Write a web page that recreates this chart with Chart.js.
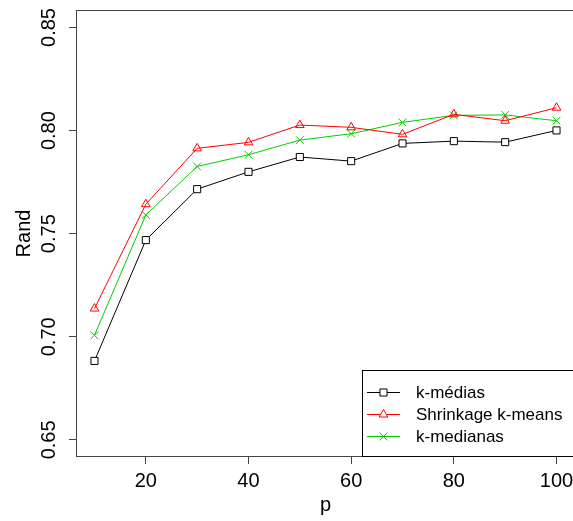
<!DOCTYPE html>
<html>
<head>
<meta charset="utf-8">
<script src="https://cdn.jsdelivr.net/npm/chart.js@4.4.0/dist/chart.umd.min.js"></script>
<style>
  html, body { margin: 0; padding: 0; background: #fff; overflow: hidden; }
  #wrap { width: 573px; height: 521px; overflow: hidden; }
</style>
</head>
<body>
<div id="wrap"><canvas id="myChart" width="575" height="521"></canvas></div>
<script>
// valeurs
const pVals = [10, 20, 30, 40, 50, 60, 70, 80, 90, 100];
const kMedias = [0.6883, 0.7469, 0.7716, 0.7800, 0.7872, 0.7852, 0.7938, 0.7949, 0.7944, 0.8001];
const shrinkage = [0.7137, 0.7643, 0.7914, 0.7943, 0.8027, 0.8016, 0.7982, 0.8079, 0.8048, 0.8111];
const kMedianas = [0.7007, 0.7591, 0.7826, 0.7883, 0.7954, 0.7985, 0.8040, 0.8074, 0.8076, 0.8048];
const xTicks = [20, 40, 60, 80, 100];
const yTicks = [0.65, 0.70, 0.75, 0.80, 0.85];
const seriesNames = ['k-médias', 'Shrinkage k-means', 'k-medianas'];

const FONT = 'Liberation Sans, Arial, sans-serif';
const axisCol = '#444';

function toXY(vals) {
    return vals.map((v, i) => ({ x: pVals[i], y: v }));
}

// cadre du graphique + légende façon R
const boxPlugin = {
    id: 'boxPlugin',
    afterDraw(chart) {
        const ctx = chart.ctx;
        const a = chart.chartArea;
        ctx.save();
        ctx.strokeStyle = axisCol;
        ctx.lineWidth = 1;
        ctx.strokeRect(a.left + 0.5, a.top + 0.5, a.right - a.left - 1, a.bottom - a.top - 1);

        // légende en bas à droite
        const lx = 362.5, ly = 370.5;
        const lw = a.right - 0.5 - lx, lh = a.bottom - 0.5 - ly;
        ctx.fillStyle = '#fff';
        ctx.fillRect(lx, ly, lw, lh);
        ctx.strokeStyle = '#000';
        ctx.strokeRect(lx, ly, lw, lh);

        const rows = [392.5, 414.5, 436.5];
        chart.data.datasets.forEach((ds, i) => {
            const y = rows[i];
            ctx.strokeStyle = ds.borderColor;
            ctx.lineWidth = 1;
            ctx.beginPath();
            ctx.moveTo(367, y);
            ctx.lineTo(400, y);
            ctx.stroke();
            ctx.fillStyle = '#fff';
            Chart.helpers.drawPoint(ctx, {
                pointStyle: ds.pointStyle,
                radius: ds.pointRadius,
                borderWidth: 1,
                rotation: 0
            }, 383.5, y);
            ctx.fillStyle = '#000';
            ctx.font = '17px ' + FONT;
            ctx.textAlign = 'left';
            ctx.textBaseline = 'middle';
            ctx.fillText(ds.label, 416, y + 1);
        });
        ctx.restore();
    }
};

document.addEventListener('DOMContentLoaded', function () {
    var ctx = document.getElementById('myChart').getContext('2d');
    var myChart = new Chart(ctx, {
        type: 'line',
        data: {
            datasets: [{
                label: seriesNames[0],
                data: toXY(kMedias),
                borderColor: '#000',
                backgroundColor: '#fff',
                pointStyle: 'rect',
                pointRadius: 5,
                pointBorderWidth: 1,
                borderWidth: 1
            }, {
                label: seriesNames[1],
                data: toXY(shrinkage),
                borderColor: '#ff0000',
                backgroundColor: 'rgba(0,0,0,0)',
                pointStyle: 'triangle',
                pointRadius: 5,
                pointBorderWidth: 1,
                borderWidth: 1
            }, {
                label: seriesNames[2],
                data: toXY(kMedianas),
                borderColor: '#00cd00',
                backgroundColor: 'rgba(0,0,0,0)',
                pointStyle: 'crossRot',
                pointRadius: 5.5,
                pointBorderWidth: 1,
                borderWidth: 1
            }]
        },
        options: {
            responsive: false,
            animation: false,
            events: [],
            layout: { autoPadding: false, padding: { top: 10, right: 0, left: 0, bottom: 0 } },
            plugins: { legend: { display: false }, tooltip: { enabled: false } },
            scales: {
                x: {
                    type: 'linear',
                    min: 6.4,
                    max: 103.6,
                    afterBuildTicks: (scale) => { scale.ticks = xTicks.map(v => ({ value: v })); },
                    afterFit: (scale) => {
                        scale.height = 64;
                        scale.paddingLeft = 0;
                        scale.paddingRight = 0;
                    },
                    grid: { drawOnChartArea: false, color: axisCol, tickLength: 7 },
                    border: { display: false },
                    ticks: {
                        color: '#000',
                        padding: 5,
                        maxRotation: 0,
                        autoSkip: false,
                        font: { family: FONT, size: 20 }
                    },
                    title: {
                        display: true,
                        text: 'p',
                        color: '#000',
                        font: { family: FONT, size: 20 },
                        padding: { top: 0, bottom: 4 }
                    }
                },
                y: {
                    type: 'linear',
                    min: 0.6417,
                    max: 0.8585,
                    afterBuildTicks: (scale) => { scale.ticks = yTicks.map(v => ({ value: v })); },
                    afterFit: (scale) => {
                        scale.width = 76;
                        scale.paddingTop = 0;
                        scale.paddingBottom = 0;
                    },
                    grid: { drawOnChartArea: false, color: axisCol, tickLength: 7 },
                    border: { display: false },
                    ticks: {
                        color: '#000',
                        padding: 0,
                        minRotation: 90,
                        maxRotation: 90,
                        crossAlign: 'center',
                        autoSkip: false,
                        font: { family: FONT, size: 20 },
                        callback: (v) => Number(v).toFixed(2)
                    },
                    title: {
                        display: true,
                        text: 'Rand',
                        color: '#000',
                        font: { family: FONT, size: 20 },
                        padding: { top: 12, bottom: 0 }
                    }
                }
            }
        },
        plugins: [boxPlugin]
    });
});
</script>
</body>
</html>
